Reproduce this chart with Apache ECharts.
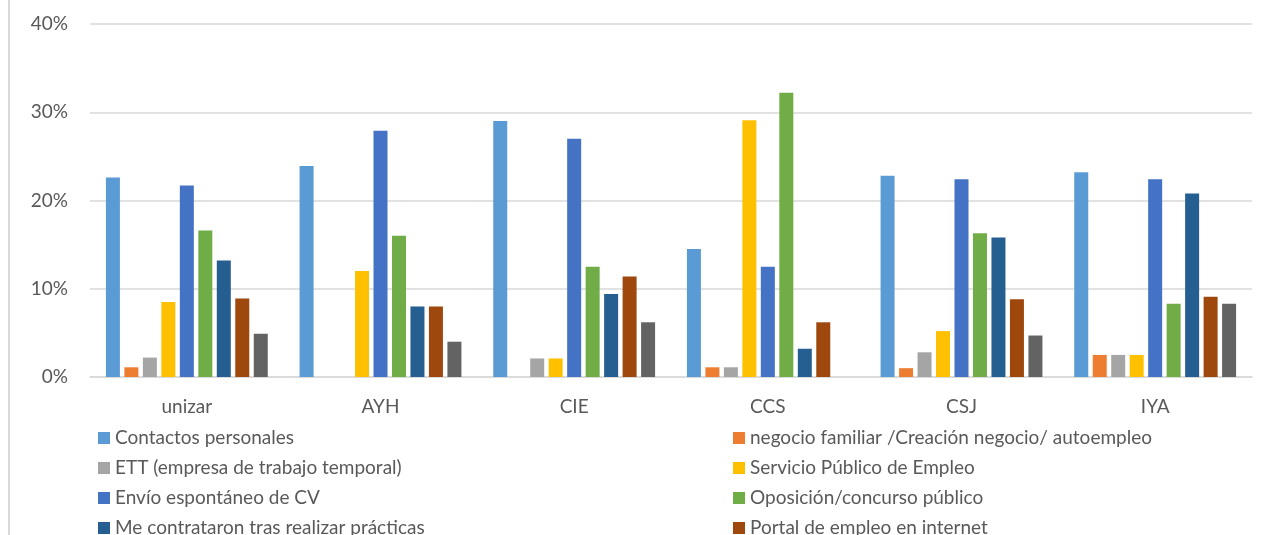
<!DOCTYPE html>
<html>
<head>
<meta charset="utf-8">
<script src="https://cdn.jsdelivr.net/npm/echarts@6/dist/echarts.min.js"></script>
<style>
  html, body { margin: 0; padding: 0; background: #fff; }
  #chart { width: 1277px; height: 535px; }
</style>
</head>
<body>
<div id="chart"></div>
<script>
// categories (grupos)
const categories = ["unizar", "AYH", "CIE", "CCS", "CSJ", "IYA"];

// series names, in legend order
const seriesNames = [
  "Contactos personales",
  "negocio familiar /Creación negocio/ autoempleo",
  "ETT (empresa de trabajo temporal)",
  "Servicio Público de Empleo",
  "Envío espontáneo de CV",
  "Oposición/concurso público",
  "Me contrataron tras realizar prácticas",
  "Portal de empleo en internet",
  "Otros"
];
const seriesColors = ["#5B9BD5", "#ED7D31", "#A5A5A5", "#FFC000", "#4472C4", "#70AD47", "#255E91", "#9E480E", "#636363"];

// values in %, one array per series (unizar, AYH, CIE, CCS, CSJ, IYA)
const contactos     = [22.6, 23.9, 29.0, 14.5, 22.8, 23.2];
const negocio       = [1.1, 0, 0, 1.1, 1.0, 2.5];
const ett           = [2.2, 0, 2.1, 1.1, 2.8, 2.5];
const servicio      = [8.5, 12.0, 2.1, 29.1, 5.2, 2.5];
const envioCV       = [21.7, 27.9, 27.0, 12.5, 22.4, 22.4];
const oposicion     = [16.6, 16.0, 12.5, 32.2, 16.3, 8.3];
const practicas     = [13.2, 8.0, 9.4, 3.2, 15.8, 20.8];
const portal        = [8.9, 8.0, 11.4, 6.2, 8.8, 9.1];
const otros         = [4.9, 4.0, 6.2, 0, 4.7, 8.3];

const allValues = [contactos, negocio, ett, servicio, envioCV, oposicion, practicas, portal, otros];

// y axis ticks
const yMax = 40;
const yStep = 10;

const chart = echarts.init(document.getElementById("chart"));

const textColor = "#595959";
const gridColor = "#D9D9D9";
const font = "Lato";

// legend is laid out in two columns, like the original
function legendColumn(left, names) {
  return {
    orient: "vertical",
    left: left,
    top: 423,
    height: 300,
    itemWidth: 12,
    itemHeight: 12,
    itemGap: 10,
    icon: "rect",
    data: names,
    textStyle: { color: textColor, fontSize: 19, fontFamily: font, lineHeight: 20 }
  };
}

chart.setOption({
  animation: false,
  color: seriesColors,
  grid: { left: 90, right: 25, top: 24, bottom: 158 },
  legend: [
    legendColumn(93, [seriesNames[0], seriesNames[2], seriesNames[4], seriesNames[6], seriesNames[8]]),
    legendColumn(728, [seriesNames[1], seriesNames[3], seriesNames[5], seriesNames[7]])
  ],
  xAxis: {
    type: "category",
    data: categories,
    axisTick: { show: false },
    axisLine: { lineStyle: { color: gridColor, width: 1.5 } },
    axisLabel: { color: textColor, fontSize: 19, fontFamily: font, margin: 20 }
  },
  yAxis: {
    type: "value",
    min: 0,
    max: yMax,
    interval: yStep,
    axisLine: { show: false },
    axisTick: { show: false },
    splitLine: { lineStyle: { color: gridColor, width: 1.5 } },
    axisLabel: { color: textColor, fontSize: 19, fontFamily: font, margin: 22, formatter: "{value}%" }
  },
  graphic: [
    {
      type: "line",
      shape: { x1: 9, y1: 0, x2: 9, y2: 535 },
      style: { stroke: gridColor, lineWidth: 2 }
    }
  ],
  series: seriesNames.map((name, i) => ({
    name: name,
    type: "bar",
    data: allValues[i],
    barWidth: 14,
    barGap: "32%",
    itemStyle: { color: seriesColors[i] }
  }))
});
</script>
</body>
</html>
